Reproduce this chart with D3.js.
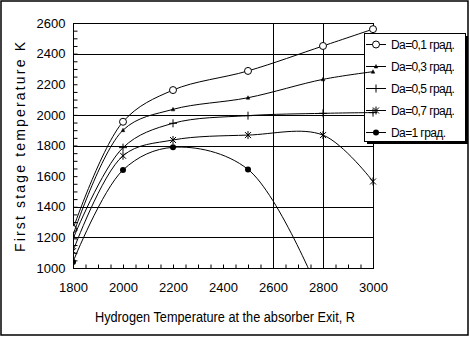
<!DOCTYPE html>
<html>
<head>
<meta charset="utf-8">
<script src="https://cdn.jsdelivr.net/npm/d3@7"></script>
<style>
  body { margin: 0; background: #fff; }
  text { font-family: "Liberation Sans", Arial, sans-serif; fill: #000; }
</style>
</head>
<body>
<svg id="chart"></svg>
<script>
// data
const hydrogenTemps = [1800, 2000, 2200, 2500, 2800, 3000];
const da01 = [1255, 1955, 2162, 2287, 2450, 2560];
const da03 = [1215, 1900, 2036, 2112, 2232, 2282];
const da05 = [1190, 1786, 1945, 1995, 2010, 2015];
const da07 = [1110, 1733, 1836, 1868, 1868, 1565];
const da1 = [1040, 1640, 1788, 1644, 780];
const seriesNames = ['Da=0,1 град.', 'Da=0,3 град.', 'Da=0,5 град.', 'Da=0,7 град.', 'Da=1 град.'];
const yTicks = [1000, 1200, 1400, 1600, 1800, 2000, 2200, 2400, 2600];
const xTicks = [1800, 2000, 2200, 2400, 2600, 2800, 3000];
const yGrid = [2400, 2000, 1800, 1400, 1200];
const xGrid = [2600, 2800];

const width = 470, height = 337;
const plotLeft = 73, plotRight = 373, plotTop = 23, plotBottom = 268;

const svg = d3.select('#chart')
    .attr('width', width)
    .attr('height', height);

// outer frame
svg.append('rect')
    .attr('x', 1).attr('y', 1)
    .attr('width', width - 3).attr('height', height - 3)
    .attr('fill', 'none').attr('stroke', '#000').attr('stroke-width', 1.5);

const x = d3.scaleLinear().domain([1800, 3000]).range([plotLeft, plotRight]);
const y = d3.scaleLinear().domain([1000, 2600]).range([plotBottom, plotTop]);

// gridlines (only some of them, like the original)
svg.append('g').selectAll('line')
    .data(yGrid).join('line')
    .attr('x1', plotLeft).attr('x2', plotRight)
    .attr('y1', d => Math.round(y(d)) + 0.5).attr('y2', d => Math.round(y(d)) + 0.5)
    .attr('stroke', '#000');
svg.append('g').selectAll('line')
    .data(xGrid).join('line')
    .attr('y1', plotTop).attr('y2', plotBottom)
    .attr('x1', d => Math.round(x(d)) + 0.5).attr('x2', d => Math.round(x(d)) + 0.5)
    .attr('stroke', '#000');

// plot box
svg.append('rect')
    .attr('x', plotLeft + 0.5).attr('y', plotTop + 0.5)
    .attr('width', plotRight - plotLeft).attr('height', plotBottom - plotTop)
    .attr('fill', 'none').attr('stroke', '#000');

// axes, minor ticks every 50
const yAxis = svg.append('g')
    .attr('transform', `translate(${plotLeft + 0.5},0)`)
    .call(d3.axisLeft(y)
        .tickValues(d3.range(1000, 2601, 50))
        .tickSize(-4).tickPadding(8)
        .tickFormat(d => yTicks.includes(d) ? d : ''));
yAxis.select('.domain').remove();
yAxis.selectAll('text').attr('font-size', '13px').attr('font-family', '"Liberation Sans", Arial, sans-serif');

const xAxis = svg.append('g')
    .attr('transform', `translate(0,${plotBottom + 0.5})`)
    .call(d3.axisBottom(x)
        .tickValues(d3.range(1800, 3001, 50))
        .tickSize(-4).tickPadding(14)
        .tickFormat(d => xTicks.includes(d) ? d : ''));
xAxis.select('.domain').remove();
xAxis.selectAll('text').attr('font-size', '13px').attr('font-family', '"Liberation Sans", Arial, sans-serif');

// axis titles
svg.append('text')
    .attr('x', (plotLeft + plotRight) / 2 + 2).attr('y', 322)
    .attr('text-anchor', 'middle')
    .attr('font-size', '14px')
    .attr('textLength', 260).attr('lengthAdjust', 'spacingAndGlyphs')
    .text('Hydrogen Temperature at the absorber Exit, R');

svg.append('text')
    .attr('transform', 'translate(25,147) rotate(-90)')
    .attr('text-anchor', 'middle')
    .attr('font-size', '14px')
    .attr('textLength', 210).attr('lengthAdjust', 'spacing')
    .text('First stage temperature K');

// legend box with shadow (drawn before the curves, the curves show over it)
const lg = { x: 364, y: 33, w: 101, h: 108 };
svg.append('rect')
    .attr('x', lg.x + 3).attr('y', lg.y + 3)
    .attr('width', lg.w).attr('height', lg.h)
    .attr('fill', '#000');
svg.append('rect')
    .attr('x', lg.x + 0.5).attr('y', lg.y + 0.5)
    .attr('width', lg.w).attr('height', lg.h)
    .attr('fill', '#fff').attr('stroke', '#000');

svg.append('clipPath').attr('id', 'plotClip')
    .append('rect')
    .attr('x', plotLeft).attr('y', plotTop - 6)
    .attr('width', plotRight - plotLeft + 6).attr('height', plotBottom - plotTop + 6);

const allSeries = [da01, da03, da05, da07, da1];
const markerTypes = ['circle', 'triangle', 'plus', 'star', 'dot'];

function drawMarker(g, type, cx, cy) {
    if (type === 'circle') {
        g.append('circle').attr('cx', cx).attr('cy', cy).attr('r', 3.5)
            .attr('fill', '#fff').attr('stroke', '#000');
    } else if (type === 'dot') {
        g.append('circle').attr('cx', cx).attr('cy', cy).attr('r', 3)
            .attr('fill', '#000');
    } else if (type === 'triangle') {
        g.append('path')
            .attr('d', `M${cx - 1.8},${cy + 1.5}L${cx + 1.8},${cy + 1.5}L${cx},${cy - 2}Z`)
            .attr('fill', '#000').attr('stroke', '#000').attr('stroke-width', 0.5);
    } else if (type === 'plus') {
        g.append('path')
            .attr('d', `M${cx - 4},${cy}H${cx + 4}M${cx},${cy - 4}V${cy + 4}`)
            .attr('stroke', '#000').attr('fill', 'none');
    } else if (type === 'star') {
        g.append('path')
            .attr('d', `M${cx - 3},${cy - 3}L${cx + 3},${cy + 3}M${cx - 3},${cy + 3}L${cx + 3},${cy - 3}M${cx},${cy - 4}V${cy + 4}`)
            .attr('stroke', '#000').attr('fill', 'none');
    }
}

const line = d3.line()
    .x((d, i) => x(hydrogenTemps[i]))
    .y(d => y(d))
    .curve(d3.curveCatmullRom.alpha(0.5));

const plot = svg.append('g').attr('clip-path', 'url(#plotClip)');
allSeries.forEach((s, k) => {
    plot.append('path')
        .datum(s)
        .attr('d', line)
        .attr('fill', 'none')
        .attr('stroke', '#000')
        .attr('stroke-width', 1);
    s.forEach((v, i) => {
        if (v >= 1000) drawMarker(plot, markerTypes[k], x(hydrogenTemps[i]), y(v));
    });
});

// legend entries
seriesNames.forEach((name, k) => {
    const ly = 44 + k * 22;
    svg.append('line')
        .attr('x1', 366).attr('x2', 386)
        .attr('y1', ly + 0.5).attr('y2', ly + 0.5)
        .attr('stroke', '#000');
    drawMarker(svg, markerTypes[k], 376, ly + 0.5);
    svg.append('text')
        .attr('x', 391).attr('y', ly + 4.5)
        .attr('font-size', '12px')
        .attr('letter-spacing', '-0.6px')
        .text(name);
});
</script>
</body>
</html>
